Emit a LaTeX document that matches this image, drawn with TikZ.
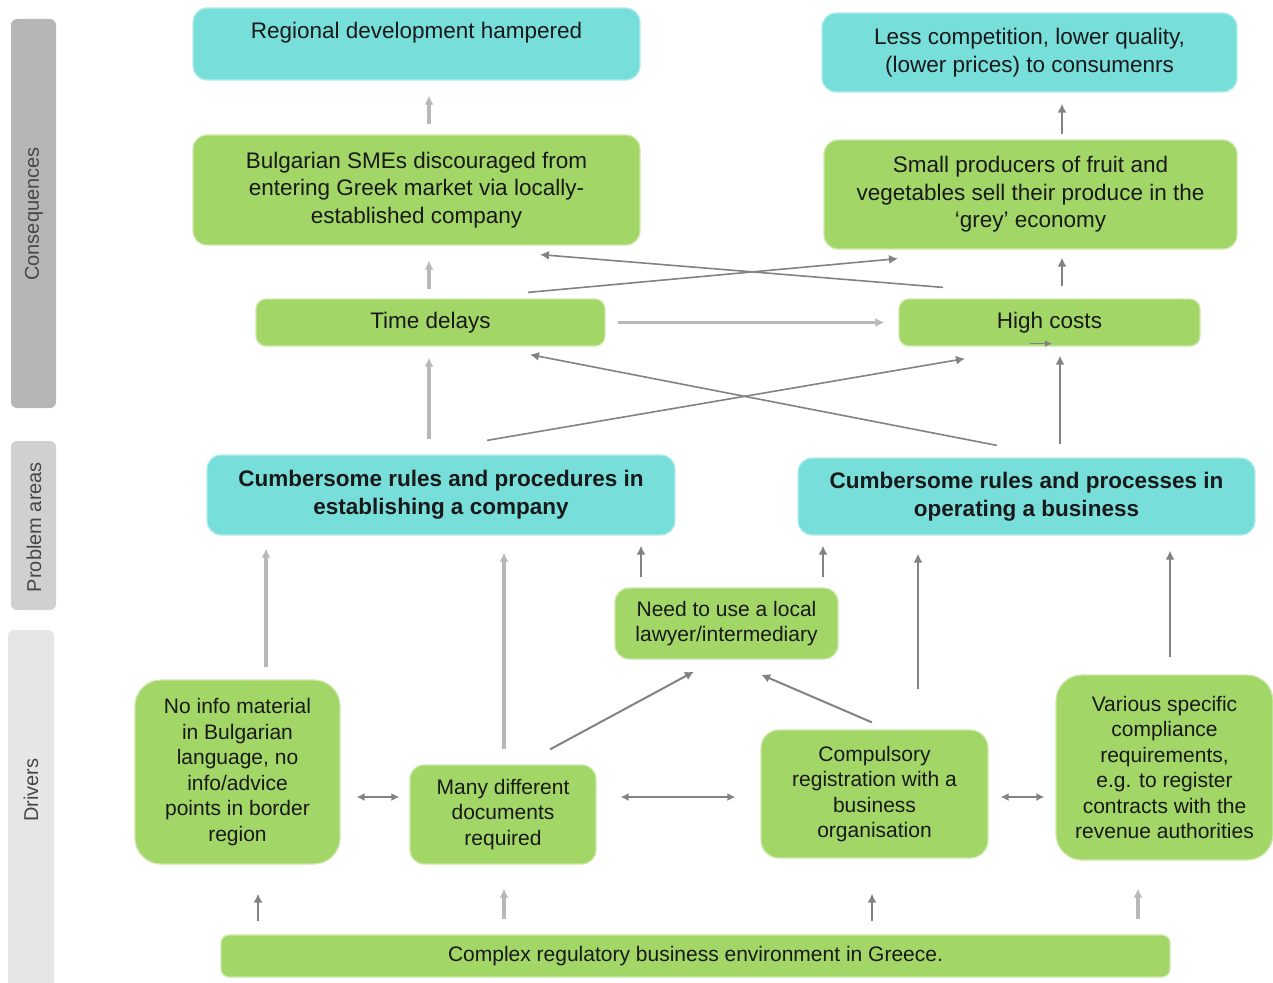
\documentclass[tikz,border=0pt]{standalone}
\usepackage{fontspec}
\setmainfont{Liberation Sans}
\usetikzlibrary{arrows.meta}

\definecolor{boxgreen}{RGB}{162,214,102}
\definecolor{boxcyan}{RGB}{120,222,218}
\definecolor{arrdark}{RGB}{130,130,130}
\definecolor{arrlight}{RGB}{184,184,184}
\definecolor{sidedark}{RGB}{182,182,182}
\definecolor{sidemid}{RGB}{208,208,208}
\definecolor{sidelight}{RGB}{230,230,230}

\newcommand{\consfont}{\fontsize{22.5}{27.5}\selectfont}
\newcommand{\probfont}{\fontsize{22.5}{28}\selectfont\bfseries}
\newcommand{\drvfont}{\fontsize{21}{25.5}\selectfont}
\newcommand{\sidefont}{\fontsize{20}{24}\selectfont}

\begin{document}
\begin{tikzpicture}[x=1pt,y=-1pt,
    box/.style={rounded corners=14pt,inner sep=0pt,align=center,text=black!90,line width=1.2pt},
    gbox/.style={box,fill=boxgreen,draw=boxgreen!55!white},
    cbox/.style={box,fill=boxcyan,draw=boxcyan!55!white},
    sidetext/.style={rotate=90,text=black!72,font=\sidefont,inner sep=0pt},
    darr/.style={draw=arrdark,line width=2pt,-{Latex[length=9pt,width=9pt]}},
    larr/.style={draw=arrlight,line width=3.2pt,-{Latex[length=9pt,width=9pt]}},
    darrb/.style={draw=arrdark,line width=2pt,{Latex[length=8pt,width=8pt]}-{Latex[length=8pt,width=8pt]}}]
    \useasboundingbox (0,0) rectangle (1273,982) ;
    %% side bars
    \fill[sidedark,rounded corners=6pt] (11,19) rectangle (56,408) ;
    \fill[sidemid,rounded corners=6pt] (11,441) rectangle (56,610) ;
    \fill[sidelight,rounded corners=6pt] (8,630) rectangle (54,1010) ;
    \node[sidetext] (lblcons) at (34,214) {Consequences} ;
    \node[sidetext] (lblprob) at (34,527) {Problem areas} ;
    \node[sidetext] (lbldrv) at (31,790) {Drivers} ;
    %% consequences
    \node[cbox,minimum width=447,minimum height=72,font=\consfont] (regdev) at (416.5,44) {Regional development hampered\\\mbox{}} ;
    \node[cbox,minimum width=415,minimum height=79,font=\consfont] (lesscomp) at (1029.5,52.5) {Less competition, lower quality,\\(lower prices) to consumenrs} ;
    \node[gbox,minimum width=447,minimum height=110,font=\consfont] (bulg) at (416.5,190) {Bulgarian SMEs discouraged from\\entering Greek market via locally-\\established company} ;
    \node[gbox,minimum width=413,minimum height=109,font=\consfont] (small) at (1030.5,194.5) {Small producers of fruit  and\\vegetables sell their produce in the\\‘grey’ economy} ;
    \node[gbox,rounded corners=10pt,minimum width=349,minimum height=47,font=\consfont] (time) at (430.5,322.5) {Time delays} ;
    \node[gbox,rounded corners=10pt,minimum width=301,minimum height=47,font=\consfont] (high) at (1049.5,322.5) {High costs} ;
    %% problem areas
    \node[cbox,minimum width=468,minimum height=80,font=\probfont] (cumba) at (441,495) {Cumbersome rules and procedures in\\establishing a company} ;
    \node[cbox,minimum width=457,minimum height=77,font=\probfont] (cumbb) at (1026.5,496.5) {Cumbersome rules and processes in\\operating a business} ;
    %% drivers
    \node[gbox,minimum width=223,minimum height=71,font=\drvfont] (need) at (726.5,623.5) {Need to use a local\\lawyer/intermediary} ;
    \node[gbox,rounded corners=26pt,minimum width=205,minimum height=184,font=\drvfont] (noinfo) at (237.5,772) {No info material\\in Bulgarian\\language, no\\info/advice\\points in border\\region} ;
    \node[gbox,minimum width=186,minimum height=99,font=\drvfont] (many) at (503,814.5) {Many different\\documents\\required} ;
    \node[gbox,rounded corners=18pt,minimum width=227,minimum height=128,font=\drvfont] (comp) at (874.5,794) {Compulsory\\registration with a\\business\\organisation} ;
    \node[gbox,rounded corners=26pt,minimum width=217,minimum height=185,font=\drvfont] (various) at (1164.5,767.5) {Various specific\\compliance\\requirements,\\e.g. to register\\contracts with the\\revenue authorities} ;
    \node[gbox,rounded corners=8pt,minimum width=949,minimum height=42,font=\drvfont] (complex) at (695.5,956) {Complex regulatory business environment in Greece.} ;
    %% links between consequences
    \draw[larr,shorten <=10pt,shorten >=15pt] ([xshift=12.5pt]bulg.north) -- ([xshift=12.5pt]regdev.south) ;
    \draw[darr,shorten <=5pt,shorten >=11pt] ([xshift=31.5pt]small.north) -- ([xshift=32.5pt]lesscomp.south) ;
    \draw[larr,shorten <=9pt,shorten >=15pt] ([xshift=-1.5pt]time.north) -- ([xshift=12.5pt]bulg.south) ;
    \draw[darr,shorten <=12pt,shorten >=8pt] ([xshift=12.5pt]high.north) -- ([xshift=31.5pt]small.south) ;
    \draw[darr,line width=1.6pt] ([xshift=97.5pt,yshift=6pt]time.north) -- ([xshift=-132.5pt,yshift=-9pt]small.south) ;
    \draw[darr,line width=1.6pt] ([xshift=-106.5pt,yshift=11pt]high.north) -- ([xshift=123.5pt,yshift=-9pt]bulg.south) ;
    \draw[larr,shorten <=12pt,shorten >=14pt] (time.east) -- (high.west) ;
    \draw[darr,line width=1.6pt,-{Latex[length=7pt,width=7pt]}] ([xshift=-19.5pt,yshift=3pt]high.south) -- ([xshift=2.5pt,yshift=3pt]high.south) ;
    %% problem areas to consequences
    \draw[larr,shorten <=15pt,shorten >=11pt] ([xshift=-12pt]cumba.north) -- ([xshift=-1.5pt]time.south) ;
    \draw[darr,line width=1.6pt] ([xshift=46pt,yshift=14pt]cumba.north) -- ([xshift=-84.5pt,yshift=-12pt]high.south) ;
    \draw[darr,line width=1.6pt] ([xshift=-29.5pt,yshift=12pt]cumbb.north) -- ([xshift=99.5pt,yshift=-8pt]time.south) ;
    \draw[darr,shorten <=13pt,shorten >=9pt] ([xshift=33.5pt]cumbb.north) -- ([xshift=10.5pt]high.south) ;
    %% drivers to problem areas
    \draw[larr,shorten <=12pt,shorten >=13pt] ([xshift=28.5pt]noinfo.north) -- ([xshift=-175pt]cumba.south) ;
    \draw[larr,shorten <=15pt,shorten >=17pt] ([xshift=1pt]many.north) -- ([xshift=63pt]cumba.south) ;
    \draw[darr,shorten <=10pt,shorten >=10pt] ([xshift=-85.5pt]need.north) -- ([xshift=200pt]cumba.south) ;
    \draw[darr,shorten <=10pt,shorten >=10pt] ([xshift=96.5pt]need.north) -- ([xshift=-203.5pt]cumbb.south) ;
    \draw[darr,shorten <=40pt,shorten >=18pt] ([xshift=43.5pt]comp.north) -- ([xshift=-108.5pt]cumbb.south) ;
    \draw[darr,shorten <=17pt,shorten >=15pt] ([xshift=5.5pt]various.north) -- ([xshift=143.5pt]cumbb.south) ;
    \draw[darr] ([xshift=47pt,yshift=15pt]many.north) -- ([xshift=-32.5pt,yshift=-12pt]need.south) ;
    \draw[darr] ([xshift=-2.5pt,yshift=7pt]comp.north) -- ([xshift=34.5pt,yshift=-15pt]need.south) ;
    %% links between drivers
    \draw[darrb,shorten <=16pt,shorten >=10pt] ([yshift=-25pt]noinfo.east) -- ([yshift=17.5pt]many.west) ;
    \draw[darrb,shorten <=24pt,shorten >=25pt] ([yshift=17.5pt]many.east) -- ([yshift=-3pt]comp.west) ;
    \draw[darrb,shorten <=12pt,shorten >=11pt] ([yshift=-3pt]comp.east) -- ([yshift=-29.5pt]various.west) ;
    %% environment to drivers
    \draw[darr,shorten <=13pt,shorten >=29pt] ([xshift=-437.5pt]complex.north) -- ([xshift=20.5pt]noinfo.south) ;
    \draw[larr,shorten <=15pt,shorten >=24pt] ([xshift=-191.5pt]complex.north) -- ([xshift=1pt]many.south) ;
    \draw[darr,shorten <=13pt,shorten >=35pt] ([xshift=176.5pt]complex.north) -- ([xshift=-2.5pt]comp.south) ;
    \draw[larr,shorten <=15pt,shorten >=28pt] ([xshift=442.5pt]complex.north) -- ([xshift=-26.5pt]various.south) ;
\end{tikzpicture}
\end{document}
